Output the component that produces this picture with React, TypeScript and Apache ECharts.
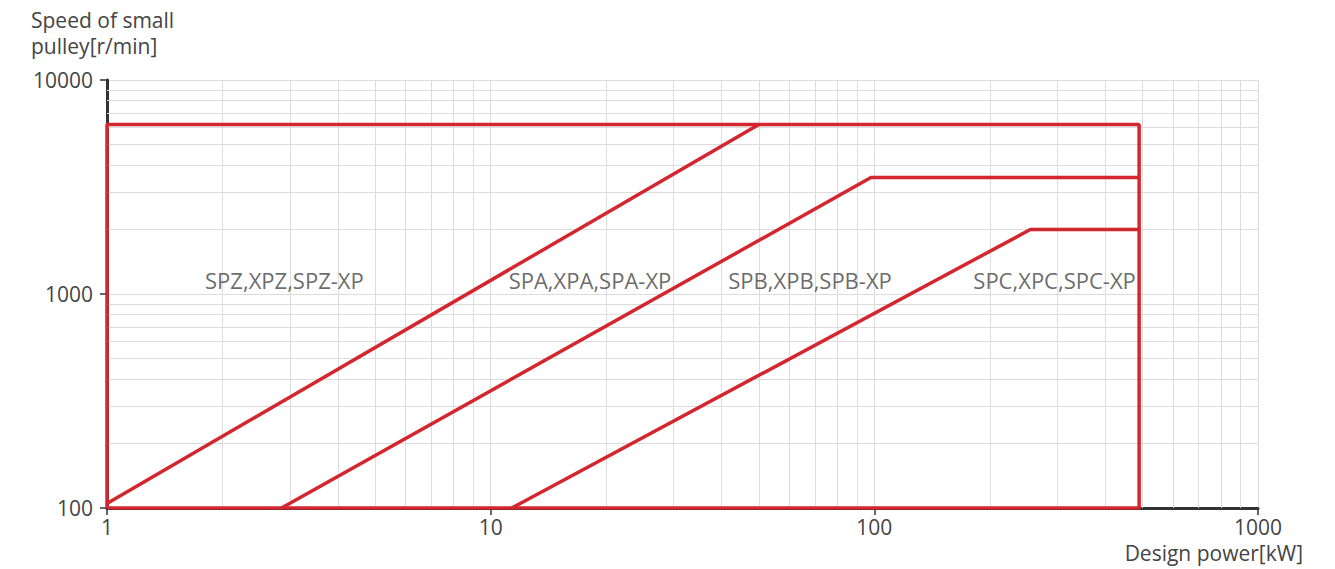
import React, { useEffect, useRef } from "react";
import * as echarts from "echarts";

// Tick / grid values
const xMajorTicks = [1, 10, 100, 1000];
const yMajorTicks = [100, 1000, 10000];
const xMinorGrid = [2, 3, 4, 5, 6, 7, 8, 9, 20, 30, 40, 50, 60, 70, 80, 90, 200, 300, 400, 500, 600, 700, 800, 900];
const yMinorGrid = [200, 300, 400, 500, 600, 700, 800, 900, 2000, 3000, 4000, 5000, 6000, 7000, 8000, 9000];

// Boundary of the selection region: [design power kW, speed r/min]
const boundary: [number, number][] = [
  [1, 100],
  [1, 6200],
  [490, 6200],
  [490, 100],
  [1, 100],
];
// Dividing lines between profiles
const lineSPZ_SPA: [number, number][] = [
  [1, 105],
  [50, 6200],
];
const lineSPA_SPB: [number, number][] = [
  [2.85, 100],
  [98, 3500],
  [490, 3500],
];
const lineSPB_SPC: [number, number][] = [
  [11.35, 100],
  [255, 2000],
  [490, 2000],
];

// Region labels
const regionNames = ["SPZ,XPZ,SPZ-XP", "SPA,XPA,SPA-XP", "SPB,XPB,SPB-XP", "SPC,XPC,SPC-XP"];
const regionX = [2.9, 18.15, 68, 295];
const regionY = [1160, 1160, 1160, 1160];

const FONT = "'Open Sans', sans-serif";
const RED = "#d3262f";
const TEXT = "#444444";

export default function App() {
  const ref = useRef<HTMLDivElement>(null);
  useEffect(() => {
    if (!ref.current) return;
    const chart = echarts.init(ref.current, undefined, { renderer: "svg" });
    const redLine = (data: [number, number][]) => ({
      type: "line",
      data,
      symbol: "none",
      z: 10,
      lineStyle: { color: RED, width: 3.5 },
      silent: true,
    });
    chart.setOption({
      animation: false,
      textStyle: { fontFamily: FONT },
      grid: { left: 107, right: 77, top: 80, bottom: 61, containLabel: false },
      xAxis: {
        type: "log",
        logBase: 10,
        min: xMajorTicks[0],
        max: xMajorTicks[xMajorTicks.length - 1],
        axisLine: { show: true, lineStyle: { color: "#333", width: 3 } },
        axisTick: { show: true, length: 7, lineStyle: { color: "#333", width: 1.5 } },
        axisLabel: {
          color: TEXT,
          fontSize: 21,
          margin: 8,
          fontFamily: FONT,
          formatter: (v: number) => String(Math.round(v)),
        },
        splitLine: { show: true, lineStyle: { color: "#dcdcdc", width: 1 } },
      },
      yAxis: {
        type: "log",
        logBase: 10,
        min: yMajorTicks[0],
        max: yMajorTicks[yMajorTicks.length - 1],
        axisLine: { show: true, lineStyle: { color: "#333", width: 3 } },
        axisTick: { show: true, length: 7, lineStyle: { color: "#333", width: 1.5 } },
        axisLabel: {
          color: TEXT,
          fontSize: 21,
          margin: 14,
          fontFamily: FONT,
          formatter: (v: number) => String(Math.round(v)),
        },
        splitLine: { show: true, lineStyle: { color: "#dcdcdc", width: 1 } },
      },
      graphic: [
        {
          type: "text",
          left: 31,
          top: 7,
          style: {
            text: "Speed of small\npulley[r/min]",
            fill: TEXT,
            font: `21px ${FONT}`,
            lineHeight: 26,
          },
        },
        {
          type: "text",
          right: 32,
          top: 542,
          style: {
            text: "Design power[kW]",
            fill: TEXT,
            font: `21px ${FONT}`,
          },
        },
      ],
      series: [
        {
          type: "line",
          data: [],
          symbol: "none",
          z: 1,
          silent: true,
          markLine: {
            silent: true,
            symbol: ["none", "none"],
            label: { show: false },
            lineStyle: { color: "#dcdcdc", width: 1, type: "solid" },
            data: [
              ...xMinorGrid.map((v) => ({ xAxis: v })),
              ...yMinorGrid.map((v) => ({ yAxis: v })),
            ],
          },
        },
        redLine(boundary),
        redLine(lineSPZ_SPA),
        redLine(lineSPA_SPB),
        redLine(lineSPB_SPC),
        {
          type: "scatter",
          symbolSize: 0,
          z: 11,
          silent: true,
          data: regionNames.map((n, i) => ({ name: n, value: [regionX[i], regionY[i]] })),
          label: {
            show: true,
            position: "inside",
            formatter: (p: any) => p.name,
            color: TEXT,
            fontSize: 22,
            fontFamily: FONT,
          },
        },
      ],
    });
    return () => chart.dispose();
  }, []);
  return (
    <div
      ref={ref}
      style={{ position: "fixed", left: 0, top: 0, width: 1335, height: 569, background: "#fff" }}
    />
  );
}
